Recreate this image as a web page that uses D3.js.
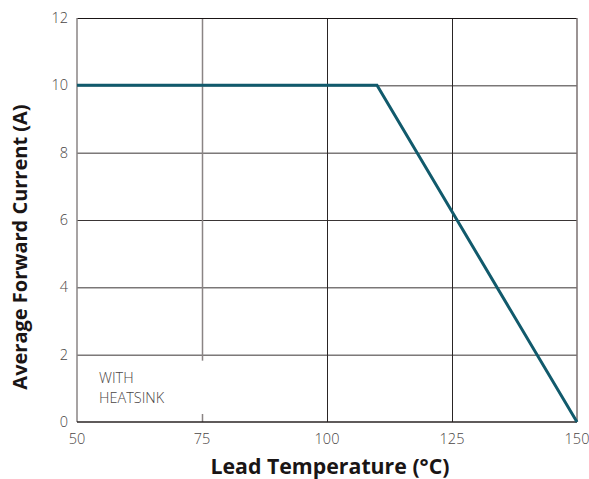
<!DOCTYPE html>
<html>
<head>
<meta charset="utf-8">
<script src="https://cdn.jsdelivr.net/npm/d3@7"></script>
<style>
  html, body { margin: 0; padding: 0; background: #fff; }
  svg { display: block; }
</style>
</head>
<body>
<svg id="chart" width="589" height="479"></svg>
<script>
// Data
const temps = [50, 110, 150];
const currents = [10, 10, 0];
const xTicks = [50, 75, 100, 125, 150];
const yTicks = [0, 2, 4, 6, 8, 10, 12];
const xTitle = "Lead Temperature (°C)";
const yTitle = "Average Forward Current (A)";
const noteLines = ["WITH", "HEATSINK"];

const svg = d3.select("#chart");
const pLeft = 77, pRight = 577, pTop = 18, pBottom = 422;
const x = d3.scaleLinear().domain([50, 150]).range([pLeft, pRight]);
const y = d3.scaleLinear().domain([0, 12]).range([pBottom, pTop]);

const font = "'Open Sans', 'Liberation Sans', sans-serif";

// horizontal grid lines
svg.append("g").selectAll("line").data(yTicks.filter(d => d > 0 && d < 12)).join("line")
  .attr("x1", pLeft).attr("x2", pRight)
  .attr("y1", d => y(d) + 0.5).attr("y2", d => y(d) + 0.5)
  .attr("stroke", "#3a3535").attr("stroke-width", 1);

// vertical grid lines
svg.append("g").selectAll("line").data(xTicks.filter(d => d > 50 && d < 150)).join("line")
  .attr("x1", d => x(d) + 0.5).attr("x2", d => x(d) + 0.5)
  .attr("y1", pTop).attr("y2", pBottom)
  .attr("stroke", d => d === 75 ? "#8a8484" : "#2a2525")
  .attr("stroke-width", d => d === 75 ? 1.5 : 1);

// white box behind the note (interrupts the 75 grid line)
svg.append("rect")
  .attr("x", pLeft + 2).attr("y", y(2) + 6)
  .attr("width", x(75) - pLeft + 4).attr("height", pBottom - 8 - (y(2) + 6))
  .attr("fill", "#fff");

// frame
svg.append("line").attr("x1", pLeft).attr("x2", pRight).attr("y1", pTop + 0.5).attr("y2", pTop + 0.5)
  .attr("stroke", "#1a1515").attr("stroke-width", 1.2);
svg.append("line").attr("x1", pRight).attr("x2", pRight).attr("y1", pTop).attr("y2", pBottom)
  .attr("stroke", "#7a7070").attr("stroke-width", 1.5);
svg.append("line").attr("x1", pLeft).attr("x2", pLeft).attr("y1", pTop).attr("y2", pBottom)
  .attr("stroke", "#8a8484").attr("stroke-width", 1.5);
svg.append("line").attr("x1", pLeft).attr("x2", pRight).attr("y1", pBottom).attr("y2", pBottom)
  .attr("stroke", "#2a2525").attr("stroke-width", 1.5);

// data line
const pts = temps.map((t, i) => [t, currents[i]]);
svg.append("path")
  .datum(pts)
  .attr("d", d3.line().x(d => x(d[0])).y(d => y(d[1])))
  .attr("fill", "none").attr("stroke", "#115a6c").attr("stroke-width", 3)
  .attr("stroke-linejoin", "miter");

// tick labels
svg.append("g").selectAll("text").data(xTicks).join("text")
  .attr("x", d => x(d)).attr("y", pBottom + 22)
  .attr("text-anchor", "middle")
  .attr("font-family", font).attr("font-weight", 300).attr("font-size", 14.5)
  .attr("fill", "#4a4545").text(d => d);

svg.append("g").selectAll("text").data(yTicks).join("text")
  .attr("x", pLeft - 9).attr("y", d => y(d) + 5)
  .attr("text-anchor", "end")
  .attr("font-family", font).attr("font-weight", 300).attr("font-size", 14.5)
  .attr("fill", "#4a4545").text(d => d);

// note
svg.append("g").selectAll("text").data(noteLines).join("text")
  .attr("x", 99).attr("y", (d, i) => 383 + i * 20)
  .attr("font-family", font).attr("font-weight", 300).attr("font-size", 14.5)
  .attr("fill", "#4a4545").text(d => d);

// axis titles
svg.append("text")
  .attr("x", 330).attr("y", 474)
  .attr("text-anchor", "middle")
  .attr("font-family", font).attr("font-weight", 700).attr("font-size", 21.3)
  .attr("fill", "#1a1515").text(xTitle);

svg.append("text")
  .attr("transform", `translate(27, 247) rotate(-90)`)
  .attr("text-anchor", "middle")
  .attr("font-family", font).attr("font-weight", 700).attr("font-size", 20)
  .attr("fill", "#1a1515").text(yTitle);
</script>
</body>
</html>
